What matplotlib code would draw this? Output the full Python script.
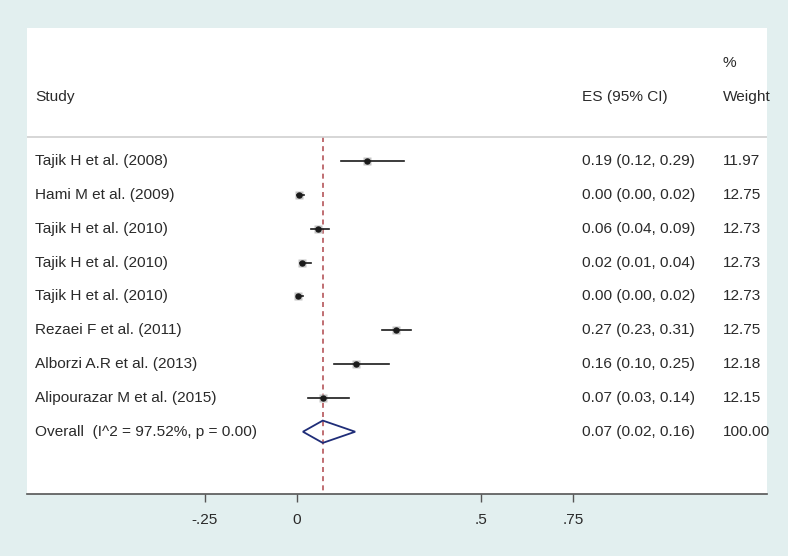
import numpy as np
import matplotlib
matplotlib.use("Agg")
import matplotlib.pyplot as plt
from matplotlib.patches import Polygon

plt.rcParams['font.family'] = ['Liberation Sans', 'DejaVu Sans']
plt.rcParams['text.color'] = '#2a2a2a'
plt.rcParams['xtick.labelcolor'] = '#2a2a2a'

# studies and estimates
studies = ["Tajik H et al. (2008)", "Hami M et al. (2009)", "Tajik H et al. (2010)",
           "Tajik H et al. (2010)", "Tajik H et al. (2010)", "Rezaei F et al. (2011)",
           "Alborzi A.R et al. (2013)", "Alipourazar M et al. (2015)"]
es = [0.19, 0.005, 0.057, 0.014, 0.003, 0.27, 0.16, 0.07]
lo = [0.12, 0.0, 0.038, 0.008, 0.0, 0.23, 0.10, 0.03]
hi = [0.29, 0.018, 0.088, 0.037, 0.016, 0.31, 0.25, 0.14]
es_text = ["0.19 (0.12, 0.29)", "0.00 (0.00, 0.02)", "0.06 (0.04, 0.09)",
           "0.02 (0.01, 0.04)", "0.00 (0.00, 0.02)", "0.27 (0.23, 0.31)",
           "0.16 (0.10, 0.25)", "0.07 (0.03, 0.14)"]
weights = ["11.97", "12.75", "12.73", "12.73", "12.73", "12.75", "12.18", "12.15"]

overall_label = "Overall  (I^2 = 97.52%, p = 0.00)"
overall_es, overall_lo, overall_hi = 0.07, 0.016, 0.158
overall_text = "0.07 (0.02, 0.16)"
overall_weight = "100.00"

xticks = [-0.25, 0, 0.5, 0.75]
xticklabels = ["-.25", "0", ".5", ".75"]

fs = 11.1
fig = plt.figure(figsize=(7.88, 5.56), dpi=100)
fig.patch.set_facecolor("#e2efef")
ax = fig.add_axes([27/788, 62/556, 740/788, 466/556])
ax.set_facecolor("white")

ax.set_xlim(-0.7337, 1.277)
ax.set_ylim(9.84, -3.93)

n = len(studies)
tr = ax.get_yaxis_transform()

# column headers
ax.text(0.0108, -1.89, "Study", transform=tr, va="center", fontsize=fs)
ax.text(0.75, -1.89, "ES (95% CI)", transform=tr, va="center", fontsize=fs)
ax.text(0.9405, -2.9, "%", transform=tr, va="center", fontsize=fs)
ax.text(0.9405, -1.89, "Weight", transform=tr, va="center", fontsize=fs)
ax.axhline(-0.71, color="#d0d0d0", lw=1.2)

# overall estimate line
ax.plot([overall_es, overall_es], [-0.71, 9.84], color="#b5555a", lw=1.2,
        ls=(0, (3, 2.5)), zorder=1)

for i in range(n):
    ax.plot([lo[i], hi[i]], [i, i], color="#1a1a1a", lw=1.2, zorder=3)
    ax.plot(es[i], i, marker="s", ms=6, color="#c4c4c4", mec="none", zorder=2)
    ax.plot(es[i], i, marker="o", ms=3.6, color="#1a1a1a", zorder=4)
    ax.text(0.0108, i, studies[i], transform=tr, va="center", fontsize=fs)
    ax.text(0.75, i, es_text[i], transform=tr, va="center", fontsize=fs)
    ax.text(0.9405, i, weights[i], transform=tr, va="center", fontsize=fs)

# overall diamond
yo = n
dia = Polygon([[overall_lo, yo], [overall_es, yo - 0.33], [overall_hi, yo],
               [overall_es, yo + 0.33]], closed=True, fill=False,
              edgecolor="#1f2d78", lw=1.3, zorder=3)
ax.add_patch(dia)
ax.text(0.0108, yo, overall_label, transform=tr, va="center", fontsize=fs)
ax.text(0.75, yo, overall_text, transform=tr, va="center", fontsize=fs)
ax.text(0.9405, yo, overall_weight, transform=tr, va="center", fontsize=fs)

for s in ["top", "left", "right"]:
    ax.spines[s].set_visible(False)
ax.spines["bottom"].set_color("#555555")
ax.spines["bottom"].set_linewidth(1.2)
ax.set_yticks([])
ax.set_xticks(xticks)
ax.set_xticklabels(xticklabels, fontsize=fs)
ax.tick_params(axis="x", length=6, width=1, color="#555555", pad=8)

fig.savefig("out.png", dpi=100, facecolor=fig.get_facecolor())
